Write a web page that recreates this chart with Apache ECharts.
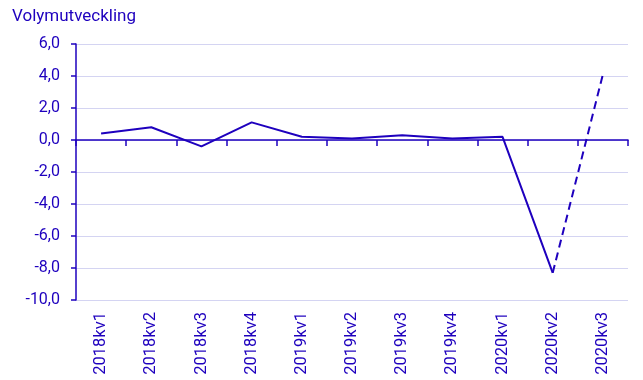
<!DOCTYPE html>
<html>
<head>
<meta charset="utf-8">
<script src="https://cdn.jsdelivr.net/npm/echarts@6/dist/echarts.min.js"></script>
<style>
html,body{margin:0;padding:0;background:#fff;}
#c{width:643px;height:380px;}
</style>
</head>
<body>
<div id="c"></div>
<script>
const categories = ['2018kv1','2018kv2','2018kv3','2018kv4','2019kv1','2019kv2','2019kv3','2019kv4','2020kv1','2020kv2','2020kv3'];
const actualValues = [0.4, 0.8, -0.4, 1.1, 0.2, 0.1, 0.3, 0.1, 0.2, -8.3, null];
const forecastValues = [null, null, null, null, null, null, null, null, null, -8.3, 4.1];
const yTicks = { min: -10, max: 6, interval: 2 };
const titleText = 'Volymutveckling';

const blue = '#1e00be';
const grid = '#d4d4f2';
const font = 'Roboto, "Noto Sans", sans-serif';
const fmt = v => v.toFixed(1).replace('.', ',');

const chart = echarts.init(document.getElementById('c'), null, {renderer: 'canvas'});
chart.setOption({
  animation: false,
  backgroundColor: '#fff',
  title: {
    text: titleText, left: 7, top: 3,
    textStyle: { color: blue, fontFamily: font, fontSize: 17, fontWeight: 'normal' }
  },
  grid: { left: 76, right: 15, top: 44, bottom: 80, containLabel: false },
  xAxis: [
    {
      type: 'category', data: categories, position: 'bottom', boundaryGap: true,
      axisLine: { onZero: true, lineStyle: { color: blue, width: 1.5 } },
      axisTick: { show: true, interval: 0, length: 6, lineStyle: { color: blue, width: 1.5 } },
      axisLabel: { show: false, interval: 0 },
      splitLine: { show: false }
    },
    {
      type: 'category', data: categories, position: 'bottom', boundaryGap: true,
      axisLine: { show: false, onZero: false },
      axisTick: { show: false },
      axisLabel: { show: true, interval: 0, rotate: 90, margin: 12, color: blue, fontFamily: font, fontSize: 16.5 },
      splitLine: { show: false }
    }
  ],
  yAxis: {
    type: 'value', min: yTicks.min, max: yTicks.max, interval: yTicks.interval,
    axisLine: { show: true, lineStyle: { color: blue, width: 1.5 } },
    axisTick: { show: true, length: 5, lineStyle: { color: blue, width: 1.5 } },
    axisLabel: { color: blue, fontFamily: font, fontSize: 16, margin: 16, formatter: fmt },
    splitLine: { show: true, lineStyle: { color: grid, width: 1 } }
  },
  series: [
    {
      type: 'line', data: actualValues, xAxisIndex: 0, symbol: 'none', connectNulls: false,
      lineStyle: { color: blue, width: 2 }, z: 3
    },
    {
      type: 'line', data: forecastValues, xAxisIndex: 0, symbol: 'none', connectNulls: false,
      lineStyle: { color: blue, width: 2, type: [8, 5] }, z: 3
    }
  ]
});
</script>
</body>
</html>
